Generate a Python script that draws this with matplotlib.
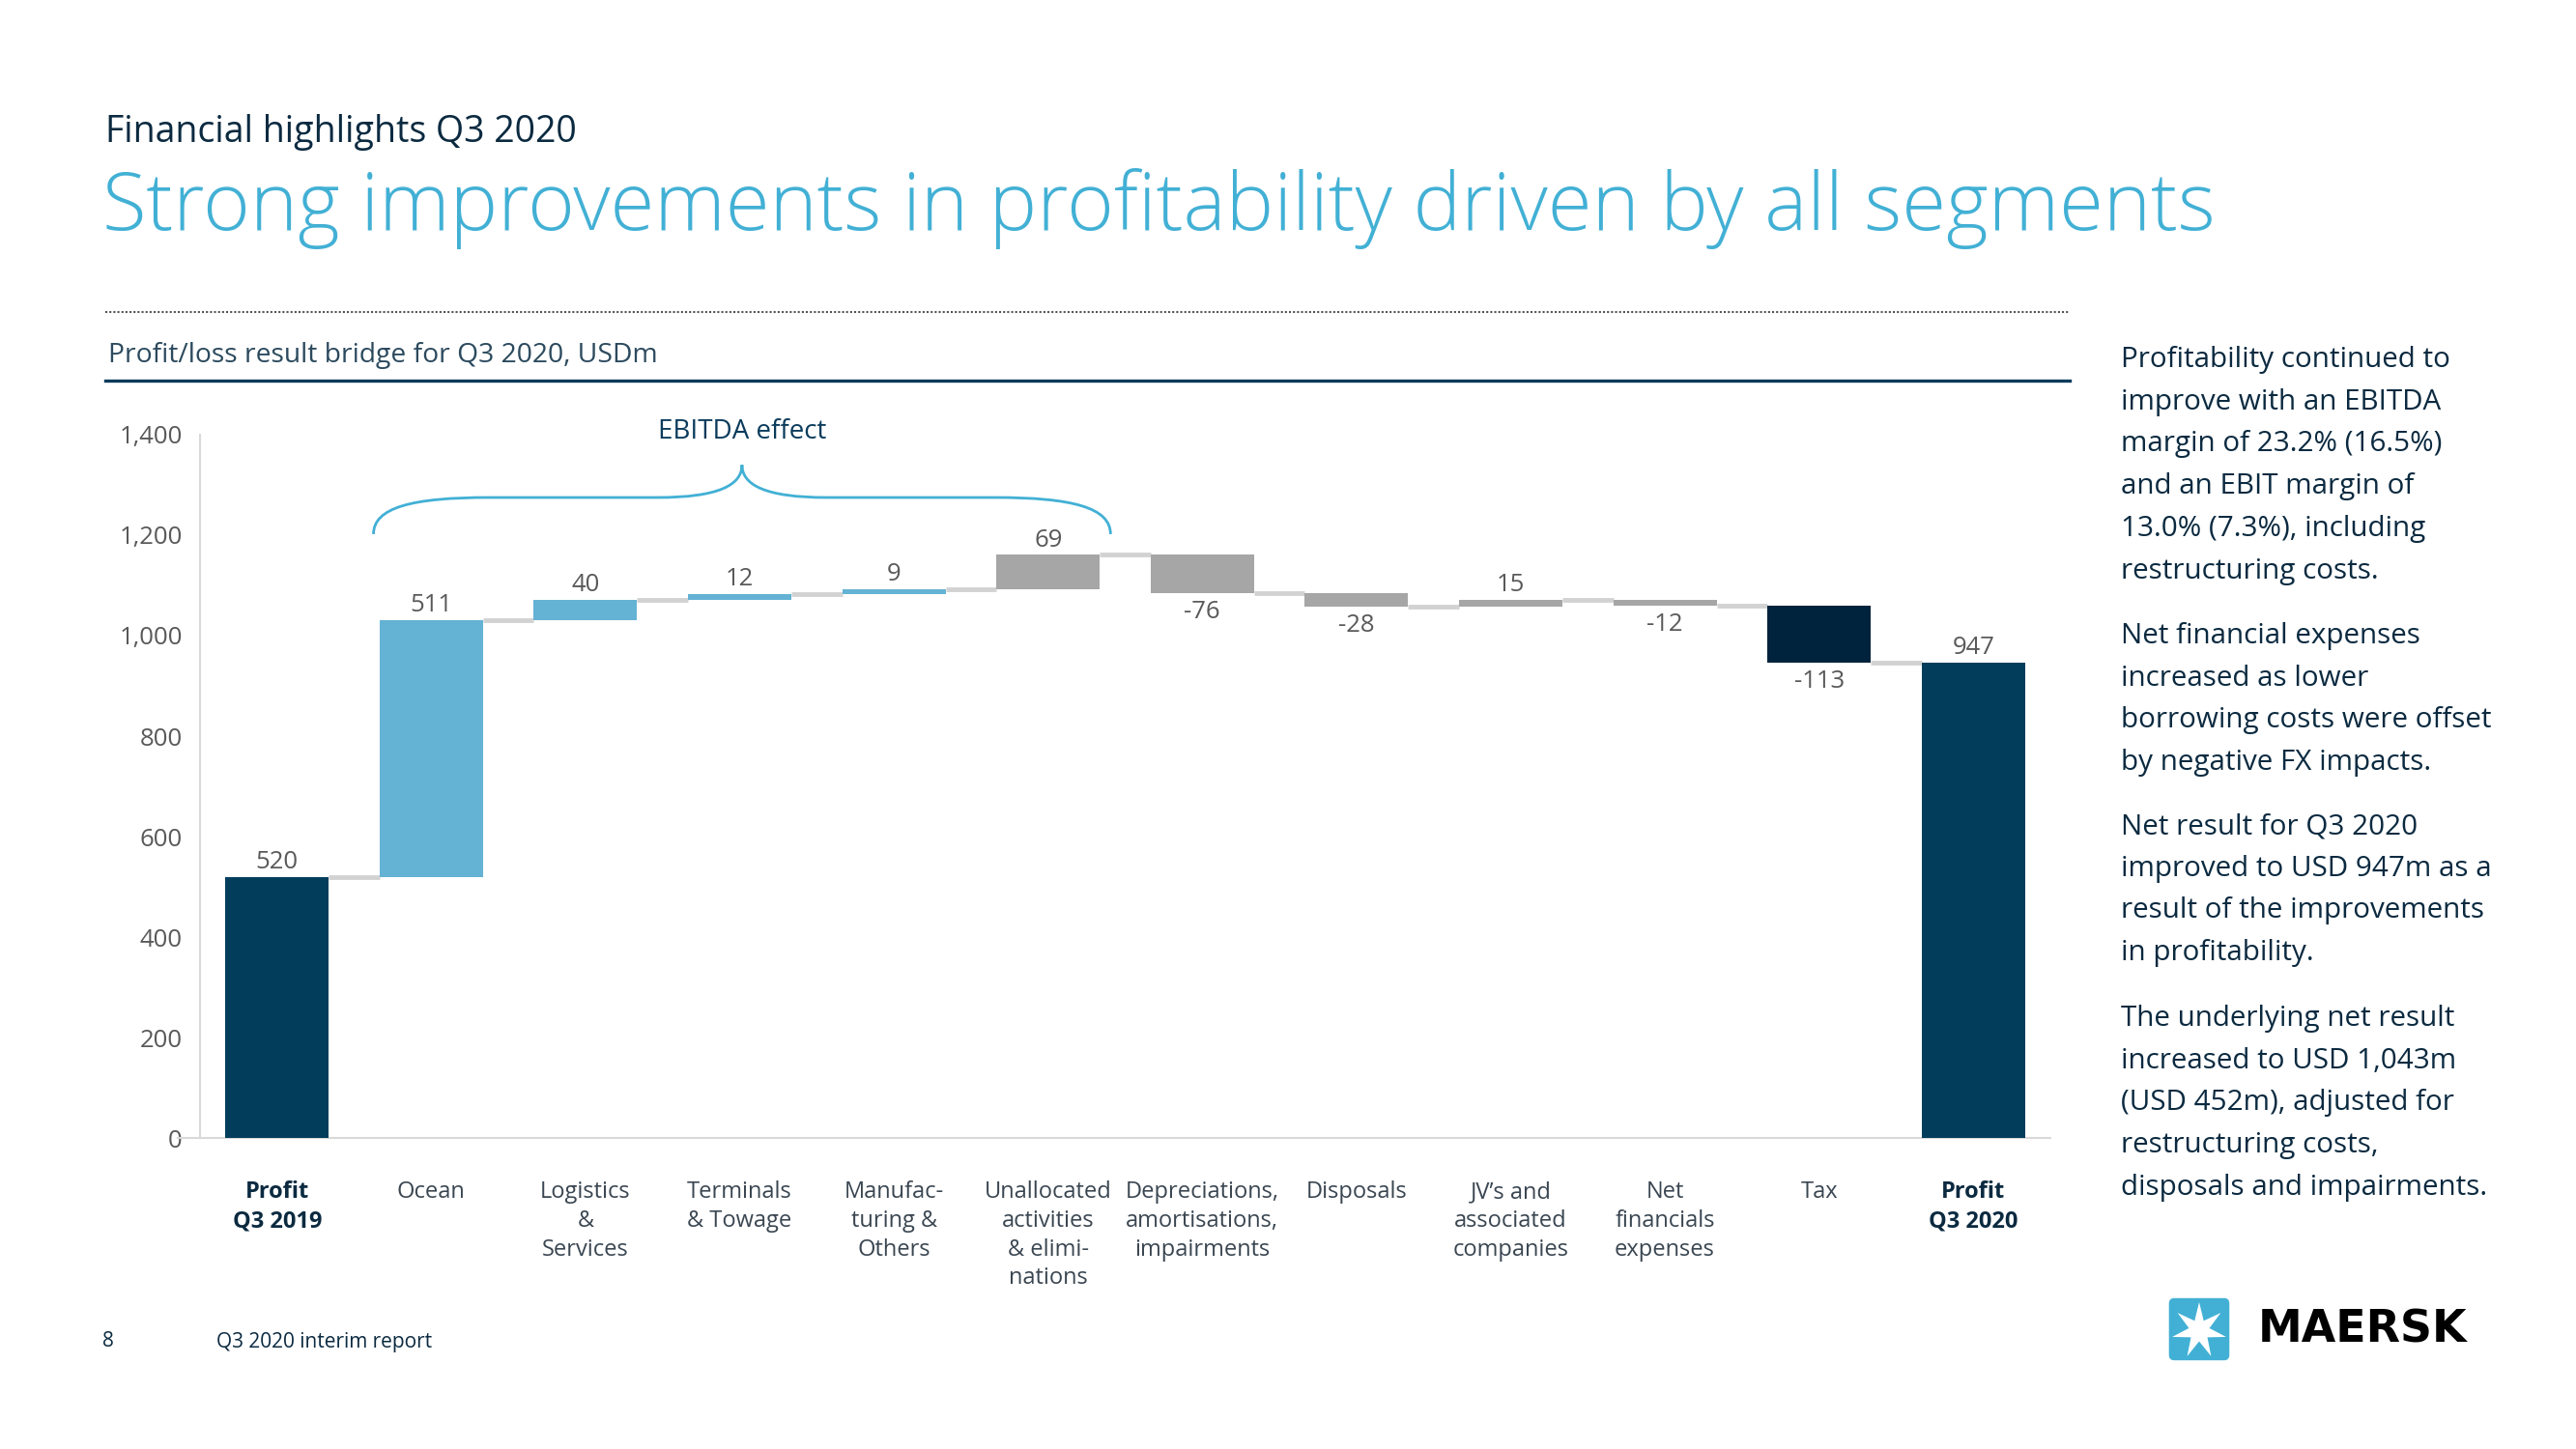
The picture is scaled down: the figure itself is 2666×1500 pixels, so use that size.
import matplotlib.pyplot as plt
import numpy as np
from matplotlib.lines import Line2D
from matplotlib.patches import FancyBboxPatch, Polygon, PathPatch
from matplotlib.path import Path
from matplotlib.ticker import FuncFormatter

plt.rcParams['font.family'] = ['Open Sans', 'DejaVu Sans']

# data
categories = ["Profit\nQ3 2019", "Ocean", "Logistics\n&\nServices", "Terminals\n& Towage",
              "Manufac-\nturing &\nOthers", "Unallocated\nactivities\n& elimi-\nnations",
              "Depreciations,\namortisations,\nimpairments", "Disposals",
              "JV\u2019s and\nassociated\ncompanies", "Net\nfinancials\nexpenses", "Tax",
              "Profit\nQ3 2020"]
values = [520, 511, 40, 12, 9, 69, -76, -28, 15, -12, -113, 947]
kinds = ["total", "segment", "segment", "segment", "segment", "other",
         "other", "other", "other", "other", "tax", "total"]
y_ticks = [0, 200, 400, 600, 800, 1000, 1200, 1400]

colours = {"total": "#023e5c", "segment": "#64b2d4", "other": "#a6a6a6", "tax": "#00233d"}
NAVY = "#0b2a40"
GREY_TXT = "#595959"
BLUE = "#42b0d5"

fig = plt.figure(figsize=(26.66, 15), dpi=100)
W, H = 2666, 1500


def fx(px):
    return px / W


def fy(py):
    return 1 - py / H


# header
fig.text(fx(109), fy(137), "Financial highlights Q3 2020", fontsize=27, color=NAVY, va="center")
fig.text(fx(106), fy(216), "Strong improvements in profitability driven by all segments",
         fontsize=60, color=BLUE, va="center", fontweight="light")
fig.add_artist(Line2D([fx(109), fx(2142)], [fy(323), fy(323)], color="#555555", lw=1.5,
                      linestyle=(0, (1, 1))))
fig.text(fx(112), fy(368), "Profit/loss result bridge for Q3 2020, USDm", fontsize=20.3,
         color="#2c4a5e", va="center")
fig.add_artist(Line2D([fx(109), fx(2142)], [fy(394), fy(394)], color="#0b3b5c", lw=2.4))

# waterfall
ax = fig.add_axes([fx(207), fy(1178), fx(2122) - fx(207), fy(450) - fy(1178)])
x = np.arange(len(values))
width = 0.67
bottoms, heights, levels = [], [], []
running = 0
for v, k in zip(values, kinds):
    if k == "total":
        bottoms.append(0)
        heights.append(v)
        running = v
    else:
        bottoms.append(running if v > 0 else running + v)
        heights.append(abs(v))
        running += v
    levels.append(running)

ax.bar(x, heights, bottom=bottoms, width=width, color=[colours[k] for k in kinds], zorder=3)

for i in range(len(values) - 1):
    ax.plot([x[i] + width / 2, x[i + 1] - width / 2], [levels[i], levels[i]],
            color="#d2d2d2", lw=3.5, solid_capstyle="butt", zorder=2)

for i, v in enumerate(values):
    if v >= 0:
        ax.annotate(f"{v}", (x[i], bottoms[i] + heights[i]), xytext=(0, 2),
                    textcoords="offset points", ha="center", va="bottom",
                    fontsize=18.5, color=GREY_TXT)
    else:
        ax.annotate(f"{v}", (x[i], bottoms[i]), xytext=(0, -5),
                    textcoords="offset points", ha="center", va="top",
                    fontsize=18.5, color=GREY_TXT)

ax.set_xlim(-0.5, len(values) - 0.5)
ax.set_ylim(0, 1400)
ax.set_yticks(y_ticks)
ax.yaxis.set_major_formatter(FuncFormatter(lambda v, p: f"{int(v):,}"))
ax.set_xticks(x)
ax.set_xticklabels(categories, fontsize=17, color="#3a4651", linespacing=1.31)
for lab in (ax.get_xticklabels()[0], ax.get_xticklabels()[-1]):
    lab.set_fontweight("bold")
    lab.set_color(NAVY)
ax.tick_params(axis="x", length=0, pad=32)
ax.tick_params(axis="y", length=0, pad=13, labelsize=18.5, labelcolor=GREY_TXT)
for s in ("top", "right"):
    ax.spines[s].set_visible(False)
for s in ("left", "bottom"):
    ax.spines[s].set_color("#d9d9d9")
    ax.spines[s].set_linewidth(1.5)
# zero line runs a little past the y axis, as in the slide
ax.axhline(0, xmin=-0.012, xmax=0, color="#d9d9d9", lw=1.5, clip_on=False)

# EBITDA brace over the segment bars
first, last = 1, 5
x0 = first - width / 2 - 0.04
x1 = last + width / 2 + 0.07
xc = (x0 + x1) / 2
y_end, y_flat, y_tip = 1202, 1275, 1340
verts = [(x0, y_end), (x0, 1255), (x0 + 0.25, y_flat), (x0 + 0.75, y_flat),
         (xc - 0.55, y_flat),
         (xc - 0.15, y_flat), (xc, 1300), (xc, y_tip),
         (xc, 1300), (xc + 0.15, y_flat), (xc + 0.55, y_flat),
         (x1 - 0.75, y_flat),
         (x1 - 0.25, y_flat), (x1, 1255), (x1, y_end)]
codes = [Path.MOVETO, Path.CURVE4, Path.CURVE4, Path.CURVE4, Path.LINETO,
         Path.CURVE4, Path.CURVE4, Path.CURVE4,
         Path.CURVE4, Path.CURVE4, Path.CURVE4, Path.LINETO,
         Path.CURVE4, Path.CURVE4, Path.CURVE4]
ax.add_patch(PathPatch(Path(verts, codes), facecolor="none", edgecolor=BLUE, lw=2,
                       clip_on=False, zorder=4))
ax.text(xc, 1406, "EBITDA effect", ha="center", va="center", fontsize=20,
        color="#0b3b5c", clip_on=False)

# commentary
paragraphs = [
    "Profitability continued to\nimprove with an EBITDA\nmargin of 23.2% (16.5%)\n"
    "and an EBIT margin of\n13.0% (7.3%), including\nrestructuring costs.",
    "Net financial expenses\nincreased as lower\nborrowing costs were offset\nby negative FX impacts.",
    "Net result for Q3 2020\nimproved to USD 947m as a\nresult of the improvements\nin profitability.",
    "The underlying net result\nincreased to USD 1,043m\n(USD 452m), adjusted for\n"
    "restructuring costs,\ndisposals and impairments.",
]
para_top = [358, 644, 841, 1040]
for txt, py in zip(paragraphs, para_top):
    fig.text(fx(2195), fy(py), txt, fontsize=21.3, color=NAVY, va="top", linespacing=1.67)

# footer
fig.text(fx(106), fy(1389), "8", fontsize=15, color=NAVY, va="center")
fig.text(fx(224), fy(1389), "Q3 2020 interim report", fontsize=15, color=NAVY, va="center")

# logo
lax = fig.add_axes([fx(2242), fy(1411), fx(2310) - fx(2242), fy(1341) - fy(1411)])
lax.set_xlim(0, 1)
lax.set_ylim(0, 1)
lax.axis("off")
lax.add_patch(FancyBboxPatch((0.04, 0.04), 0.92, 0.92, boxstyle="round,pad=0,rounding_size=0.08",
                             facecolor=BLUE, edgecolor="none"))
n = 7
ang = np.pi / 2 + np.arange(2 * n) * np.pi / n
rad = np.where(np.arange(2 * n) % 2 == 0, 0.42, 0.16)
lax.add_patch(Polygon(np.column_stack([0.5 + rad * np.cos(ang), 0.48 + rad * np.sin(ang)]),
                      facecolor="white", edgecolor="none"))
fig.text(fx(2337), fy(1377), "MAERSK", fontsize=33, fontweight="heavy", color="black",
         va="center", family="DejaVu Sans")

fig.savefig("out.png", dpi=100, facecolor="white")
